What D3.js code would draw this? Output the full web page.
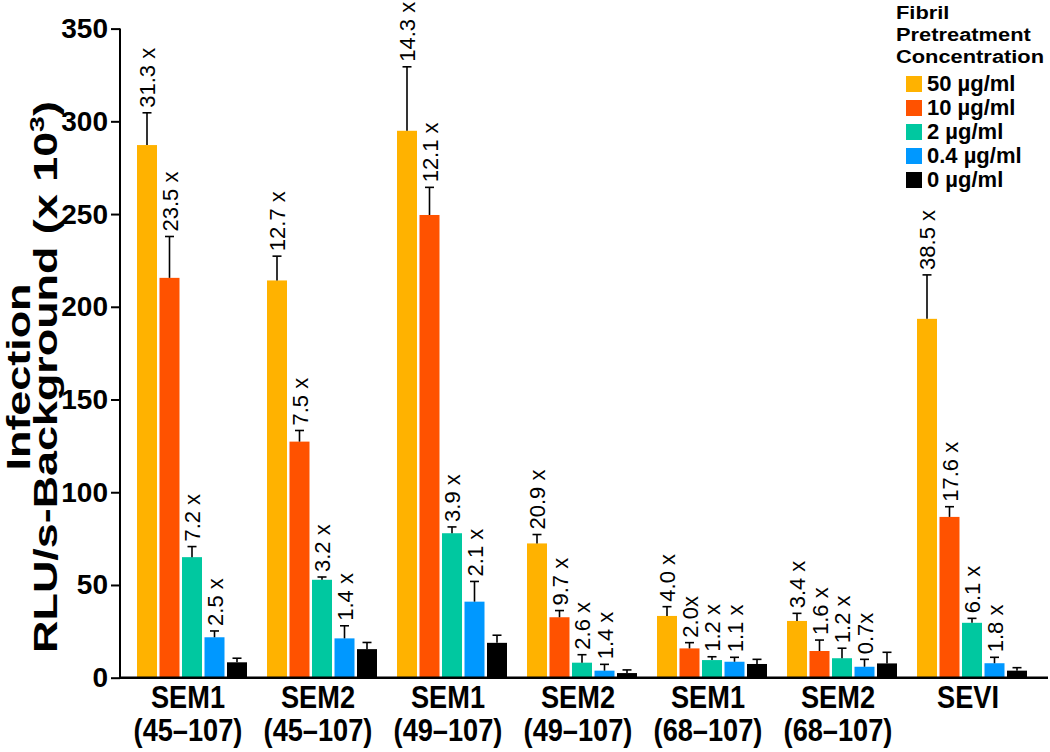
<!DOCTYPE html>
<html><head><meta charset="utf-8">
<script src="https://cdn.jsdelivr.net/npm/d3@7"></script>
<style>
body{margin:0;background:#fff;}
svg{display:block;font-family:"Liberation Sans",Arial,Helvetica,sans-serif;}
</style></head>
<body>
<svg id="chart" width="1050" height="752"></svg>
<script>
const groupsLine1 = ["SEM1","SEM2","SEM1","SEM2","SEM1","SEM2","SEVI"];
const groupsLine2 = ["(45–107)","(45–107)","(49–107)","(49–107)","(68–107)","(68–107)",""];
const seriesNames = ["50 µg/ml","10 µg/ml","2 µg/ml","0.4 µg/ml","0 µg/ml"];
const seriesColors = ["#FFB200","#FF5200","#00C8A0","#0098FF","#000000"];
const legendTitle = ["Fibril","Pretreatment","Concentration"];
const yTicks = [0,50,100,150,200,250,300,350];

const c50  = [287.2, 214.2, 294.9, 72.4, 33.3, 30.6, 193.5];
const c10  = [215.6, 127.3, 249.5, 32.6, 15.8, 14.4, 86.7];
const c2   = [65.0, 52.8, 77.9, 8.1, 9.5, 10.5, 29.6];
const c04  = [21.8, 21.2, 41.0, 3.8, 8.6, 5.9, 7.8];
const c0   = [8.3, 15.4, 18.8, 2.5, 7.4, 7.7, 3.8];

const e50  = [17.4, 13.1, 34.5, 4.8, 5.0, 4.1, 23.7];
const e10  = [22.3, 6.0, 14.9, 3.6, 3.1, 5.9, 5.5];
const e2   = [5.7, 1.5, 3.4, 4.3, 1.8, 5.4, 2.4];
const e04  = [3.4, 6.8, 10.9, 3.4, 2.4, 4.0, 3.2];
const e0   = [2.2, 3.6, 4.1, 1.7, 2.5, 6.0, 1.6];

const l50  = ["31.3 x","12.7 x","14.3 x","20.9 x","4.0 x","3.4 x","38.5 x"];
const l10  = ["23.5 x","7.5 x","12.1 x","9.7 x","2.0x","1.6 x","17.6 x"];
const l2   = ["7.2 x","3.2 x","3.9 x","2.6 x","1.2 x","1.2 x","6.1 x"];
const l04  = ["2.5 x","1.4 x","2.1 x","1.4 x","1.1 x","0.7x","1.8 x"];
const l0   = ["","","","","","",""];

const values = [c50,c10,c2,c04,c0];
const errors = [e50,e10,e2,e04,e0];
const labels = [l50,l10,l2,l04,l0];

const svg = d3.select("#chart");
const FONT = '"Liberation Sans",Arial,Helvetica,sans-serif';

const y = d3.scaleLinear().domain([0,350]).range([677.7, 28.6]);
const x0 = d3.scaleBand().domain(d3.range(groupsLine1.length)).range([127,1037])
  .paddingInner(20/130).paddingOuter(10/130);
const x1 = d3.scaleBand().domain(d3.range(seriesNames.length)).range([0, x0.bandwidth()])
  .paddingInner(2.5/22.5).paddingOuter(0);

const data = [];
groupsLine1.forEach((g,gi)=>{
  seriesNames.forEach((s,si)=>{
    data.push({g:gi, s:si, v:values[si][gi], e:errors[si][gi], lab:labels[si][gi]});
  });
});

const plot = svg.append("g");
plot.selectAll("rect.bar").data(data).join("rect")
  .attr("class","bar")
  .attr("x", d=>x0(d.g)+x1(d.s))
  .attr("width", x1.bandwidth())
  .attr("y", d=>y(d.v))
  .attr("height", d=>y(0)-y(d.v))
  .attr("fill", d=>seriesColors[d.s]);

const cx = d=>x0(d.g)+x1(d.s)+x1.bandwidth()/2;
plot.selectAll("line.err").data(data).join("line")
  .attr("x1",cx).attr("x2",cx)
  .attr("y1",d=>y(d.v)).attr("y2",d=>y(d.v+d.e))
  .attr("stroke","#000").attr("stroke-width",1.6);
plot.selectAll("line.cap").data(data).join("line")
  .attr("x1",d=>cx(d)-4.5).attr("x2",d=>cx(d)+4.5)
  .attr("y1",d=>y(d.v+d.e)).attr("y2",d=>y(d.v+d.e))
  .attr("stroke","#000").attr("stroke-width",1.6);

plot.selectAll("text.val").data(data.filter(d=>d.lab)).join("text")
  .attr("transform", d=>`translate(${cx(d)+8},${y(d.v+d.e)-5}) rotate(-90)`)
  .attr("font-size",22).attr("font-family",FONT).attr("fill","#000")
  .text(d=>d.lab);

// y axis
const yAxis = d3.axisLeft(y).tickValues(yTicks).tickSize(9).tickPadding(3).tickFormat(d3.format("d"));
const ga = svg.append("g").attr("transform","translate(120,0)").call(yAxis);
ga.select(".domain").attr("stroke-width",2).attr("d",`M0,${y(350)}V${y(0)}`);
ga.selectAll(".tick line").attr("stroke-width",2);
ga.selectAll(".tick text").attr("font-size",28).attr("font-weight","bold").attr("font-family",FONT).attr("fill","#000");

// x axis line
const xAxis = d3.axisBottom(x0).tickSize(0).tickFormat("");
const gx = svg.append("g").attr("transform",`translate(0,${y(0)})`).call(xAxis);
gx.select(".domain").attr("stroke-width",2.5).attr("d","M119,0H1048");

// category labels (slightly condensed)
const catG = svg.append("g").selectAll("g").data(d3.range(groupsLine1.length)).join("g")
  .attr("transform",d=>`translate(${x0(d)+x0.bandwidth()/2-4},0) scale(0.85,1)`);
const cat = catG.append("text")
  .attr("text-anchor","middle").attr("font-family",FONT).attr("font-weight","bold")
  .attr("font-size",32).attr("fill","#000");
cat.append("tspan").attr("x",0).attr("y",708).text(d=>groupsLine1[d]);
cat.append("tspan").attr("x",0).attr("y",741).text(d=>groupsLine2[d]);

// y title
const ty = svg.append("text").attr("transform","translate(0,377) rotate(-90) scale(1.36,1)")
  .attr("text-anchor","middle").attr("font-family",FONT).attr("font-weight","bold")
  .attr("font-size",33).attr("fill","#000");
ty.append("tspan").attr("x",0).attr("y",30).text("Infection");
ty.append("tspan").attr("x",0).attr("y",57).text("RLU/s-Background (x 10")
  .append("tspan").attr("font-size",21).attr("dy",-13).text("3");
ty.append("tspan").attr("dy",13).text(")");

// legend
const lg = svg.append("g").attr("font-family",FONT).attr("font-weight","bold").attr("fill","#000");
lg.selectAll("text.lt").data(legendTitle).join("text")
  .attr("transform",(d,i)=>`translate(896,${19+i*22}) scale(1.15,1)`)
  .attr("font-size",19).text(d=>d);
const li = lg.selectAll("g.li").data(seriesNames).join("g")
  .attr("transform",(d,i)=>`translate(906,${76+i*24})`);
li.append("rect").attr("width",16).attr("height",16).attr("fill",(d,i)=>seriesColors[i]);
li.append("text").attr("x",21).attr("y",15).attr("font-size",22).text(d=>d);
</script>
</body></html>
